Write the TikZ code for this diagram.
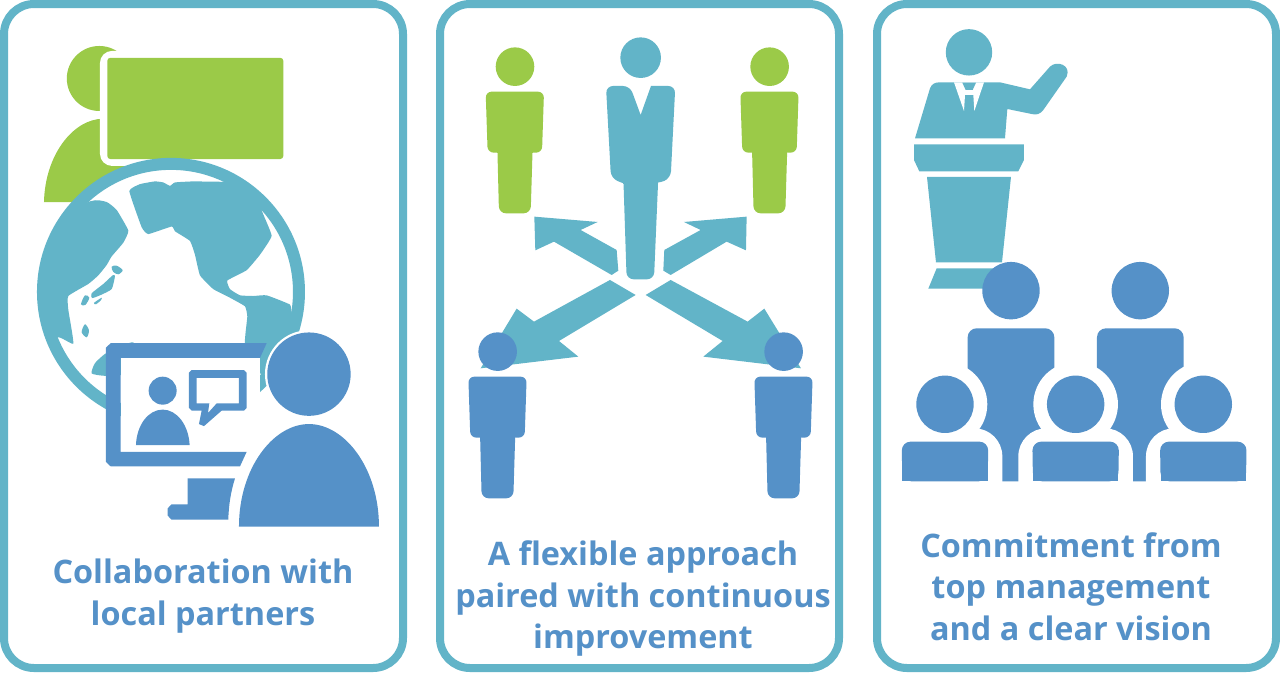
\documentclass[tikz,border=0pt]{standalone}
\usepackage{fontspec}
\setmainfont{Open Sans}
\definecolor{tealc}{RGB}{98,180,200}
\definecolor{bluec}{RGB}{85,145,200}
\definecolor{greenc}{RGB}{155,202,72}
\tikzset{
  panel/.style={draw=tealc,line width=8pt,fill=white,rounded corners=30pt},
  caption/.style={text=bluec,align=center,font=\bfseries\fontsize{32.4}{41.5}\selectfont},
  teal/.style={fill=tealc,draw=none},
  blue/.style={fill=bluec,draw=none},
  green/.style={fill=greenc,draw=none},
  halo/.style={fill=white,draw=none},
  zoomA/.style={x=0.3333pt,y=-0.3442pt},
  zoomB/.style={shift={(430pt,-20pt)},x=0.3333pt,y=-0.3333pt},
  zoomC/.style={shift={(880pt,-10pt)},x=0.3333pt,y=-0.3333pt}
}
% standing person: #1 style, #2 dx, #3 dy
\newcommand{\figperson}[3]{%
  \begin{scope}[shift={(#2,#3)}]
    \fill[#1] (255,140) circle (19.3pt);
    \fill[#1,rounded corners=6pt] (167,215) -- (342,215) -- (336,398) -- (173,398) -- cycle;
    \fill[#1,rounded corners=7pt] (202,380) -- (308,380) -- (302,580) -- (207,580) -- cycle;
    \fill[#1] (202,370) rectangle (308,400);
  \end{scope}}
\begin{document}
\begin{tikzpicture}[x=1pt,y=-1pt]
\useasboundingbox (0,0) rectangle (1280,678);
\fill[white] (0,0) rectangle (1280,678);
\draw[panel] (4,4) rectangle (403,668);
\draw[panel] (440,4) rectangle (839,668);
\draw[panel] (877,4) rectangle (1276,668);

% ---------- panel 1
\begin{scope}[zoomA]
  \fill[green] (132,587) .. controls (135,450) and (220,345) .. (310,345) -- (420,345) -- (420,587) -- cycle;
  \fill[green] (298,228) circle (32.5pt);
  \fill[halo,rounded corners=12pt] (300,148) rectangle (872,482);
  \fill[green,rounded corners=3pt] (322,168) rectangle (850,462);
  \coordinate (gc) at (513,848);
  \fill[white] (gc) circle (130pt);
  \begin{scope}
    \clip (gc) circle (130pt);
    % Asia
    \fill[teal] plot[smooth cycle,tension=0.25] coordinates {(270,585)(320,587)(350,610)(385,670)(370,705)(335,745)(320,770)(295,800)(265,825)(205,860)(205,900)(220,998)(175,980)(60,1000)(40,700)};
    % Japan and islands
    \fill[teal] plot[smooth cycle,tension=0.5] coordinates {(335,775)(350,772)(368,785)(355,797)(340,790)};
    \fill[teal] plot[smooth cycle,tension=0.3] coordinates {(338,800)(345,802)(335,840)(300,858)(276,866)(275,852)(310,825)};
    \fill[teal] plot[smooth cycle,tension=0.5] coordinates {(243,884)(255,858)(268,865)(256,886)};
    \fill[teal] plot[smooth cycle,tension=0.5] coordinates {(282,880)(305,865)(302,873)(288,884)};
    \fill[teal] plot[smooth cycle,tension=0.5] coordinates {(245,965)(255,942)(267,960)(260,980)};
    % Americas
    \fill[teal] plot[smooth cycle,tension=0.22] coordinates {(388,555)(420,535)(465,527)(490,530)(510,540)(525,530)(580,527)(670,528)(700,520)(800,580)(785,610)(815,685)(780,740)(740,785)(682,815)(690,840)(720,858)(760,860)(800,858)(870,885)(878,915)(950,950)(880,1080)(780,1085)(735,1000)(742,920)(735,890)(690,865)(640,840)(600,800)(585,740)(570,700)(525,672)(515,658)(445,680)(425,660)};
    % Australia
    \fill[teal] plot[smooth cycle,tension=0.3] coordinates {(275,1085)(285,1055)(320,1025)(400,995)(420,1080)(320,1092)};
  \end{scope}
  \draw[tealc,line width=12pt] (gc) circle (128pt);
  % monitor
  \fill[white] (362,1040) rectangle (780,1313);
  \fill[blue] (332,997) -- (800,997) -- (780,1040) -- (362,1040) -- (362,1313) -- (740,1313) -- (720,1355) -- (332,1355) -- (318,1342) -- (318,1010) -- cycle;
  \fill[blue] (488,1135) circle (14pt);
  \fill[blue] (408,1293) .. controls (410,1235) and (445,1190) .. (488,1190) .. controls (531,1190) and (566,1235) .. (569,1293) -- cycle;
  \fill[blue,even odd rule] (575,1075) -- (732,1075) -- (740,1083) -- (740,1185) -- (732,1193) -- (665,1193) -- (612,1238) -- (597,1232) -- (605,1193) -- (575,1193) -- (567,1185) -- (567,1083) -- cycle
    (590,1098) -- (590,1172) -- (628,1172) -- (624,1200) -- (650,1172) -- (717,1172) -- (717,1098) -- cycle;
  \fill[blue] (563,1390) -- (705,1390) .. controls (692,1430) and (686,1470) .. (685,1510) -- (515,1510) -- (503,1498) -- (503,1477) -- (515,1465) -- (563,1465) -- cycle;
  % viewer
  \draw[white,line width=19pt,fill=bluec] (717,1530) .. controls (717,1360) and (820,1232) .. (927,1232) .. controls (1034,1232) and (1137,1360) .. (1137,1530) -- cycle;
  \fill[blue] (717,1530) .. controls (717,1360) and (820,1232) .. (927,1232) .. controls (1034,1232) and (1137,1360) .. (1137,1530) -- cycle;
  \fill[halo] (927,1087) circle (44pt);
  \fill[blue] (927,1087) circle (41.7pt);
\end{scope}

% ---------- panel 2
\begin{scope}[zoomB]
  \figperson{green}{0}{0}
  \figperson{green}{764}{0}
  \fill[teal] (632,113) circle (20.3pt);
  \fill[teal,rounded corners=7pt] (528,198) -- (600,198) [sharp corners] -- (632,285) -- (663,198) [rounded corners=7pt] -- (736,198) -- (722,475) -- (685,490) [sharp corners] -- (580,490) [rounded corners=7pt] -- (543,475) -- cycle;
  \fill[teal,rounded corners=7pt] (580,470) -- (685,470) -- (672,778) -- (590,778) -- cycle;
  \fill[teal] (580,460) rectangle (685,491);
  \fill[teal] (313,590) -- (503,606) -- (452,630) -- (560,690) -- (565,752) -- (545,765) -- (372,665) -- (316,691) -- cycle;
  \fill[teal] (950,590) -- (762,606) -- (812,630) -- (703,690) -- (700,752) -- (722,765) -- (890,665) -- (948,691) -- cycle;
  \fill[teal] (540,780) -- (617,825) -- (387,963) -- (445,1010) -- (152,1045) -- (260,866) -- (312,905) -- cycle;
  \fill[teal] (722,780) -- (647,825) -- (878,963) -- (820,1010) -- (1113,1045) -- (1003,866) -- (953,905) -- cycle;
  \figperson{blue}{-52}{855}
  \figperson{blue}{806}{855}
\end{scope}

% ---------- panel 3
\begin{scope}[zoomC]
  \fill[teal] (267,127) circle (23.2pt);
  \fill[teal] (105,385) -- (150,235) .. controls (155,222) and (165,217) .. (178,217) -- (360,217) -- (450,238) -- (510,170) .. controls (530,150) and (575,165) .. (560,200) -- (490,300) .. controls (480,312) and (470,316) .. (455,312) -- (382,297) -- (375,385) -- cycle;
  \fill[white] (222,217) -- (252,303) -- (255,255) -- (280,255) -- (283,303) -- (312,217) -- cycle;
  \fill[teal] (247,218) -- (288,218) -- (278,240) -- (257,240) -- cycle;
  \fill[teal] (102,403) -- (432,403) -- (432,450) -- (415,484) -- (118,484) -- (102,450) -- cycle;
  \fill[teal] (141,501) -- (393,501) -- (366,757) -- (168,757) -- cycle;
  \fill[teal] (170,775) -- (365,775) -- (385,836) -- (145,836) -- cycle;
  \fill[blue] (393,842) circle (28.7pt);
  \fill[blue] (781,842) circle (28.7pt);
  \fill[blue,rounded corners=9pt] (263,955) rectangle (523,1414);
  \fill[blue,rounded corners=9pt] (651,955) rectangle (911,1414);
  \fill[blue] (263,1300) rectangle (523,1414);
  \fill[blue] (651,1300) rectangle (911,1414);
  \foreach \cx in {195,587,970}{
    \fill[halo] (\cx,1183) circle (42.3pt);
    \fill[halo,rounded corners=28pt] (\cx-172,1255) rectangle (\cx+172,1500);
  }
  \foreach \cx in {195,587,970}{
    \fill[blue] (\cx,1183) circle (28.7pt);
    \fill[blue,rounded corners=9pt] (\cx-130,1295) -- (\cx+130,1295) -- (\cx+128,1414) -- (\cx-128,1414) -- cycle;
    \fill[blue] (\cx-128,1380) rectangle (\cx+128,1414);
  }
\end{scope}

\node[caption] (capA) at (203,596) {Collaboration with\\local partners};
\node[caption] (capB) at (643,598.5) {A flexible approach\\paired with continuous\\improvement};
\node[caption] (capC) at (1071,586.5) {Commitment from\\top management\\and a clear vision};
\end{tikzpicture}
\end{document}
